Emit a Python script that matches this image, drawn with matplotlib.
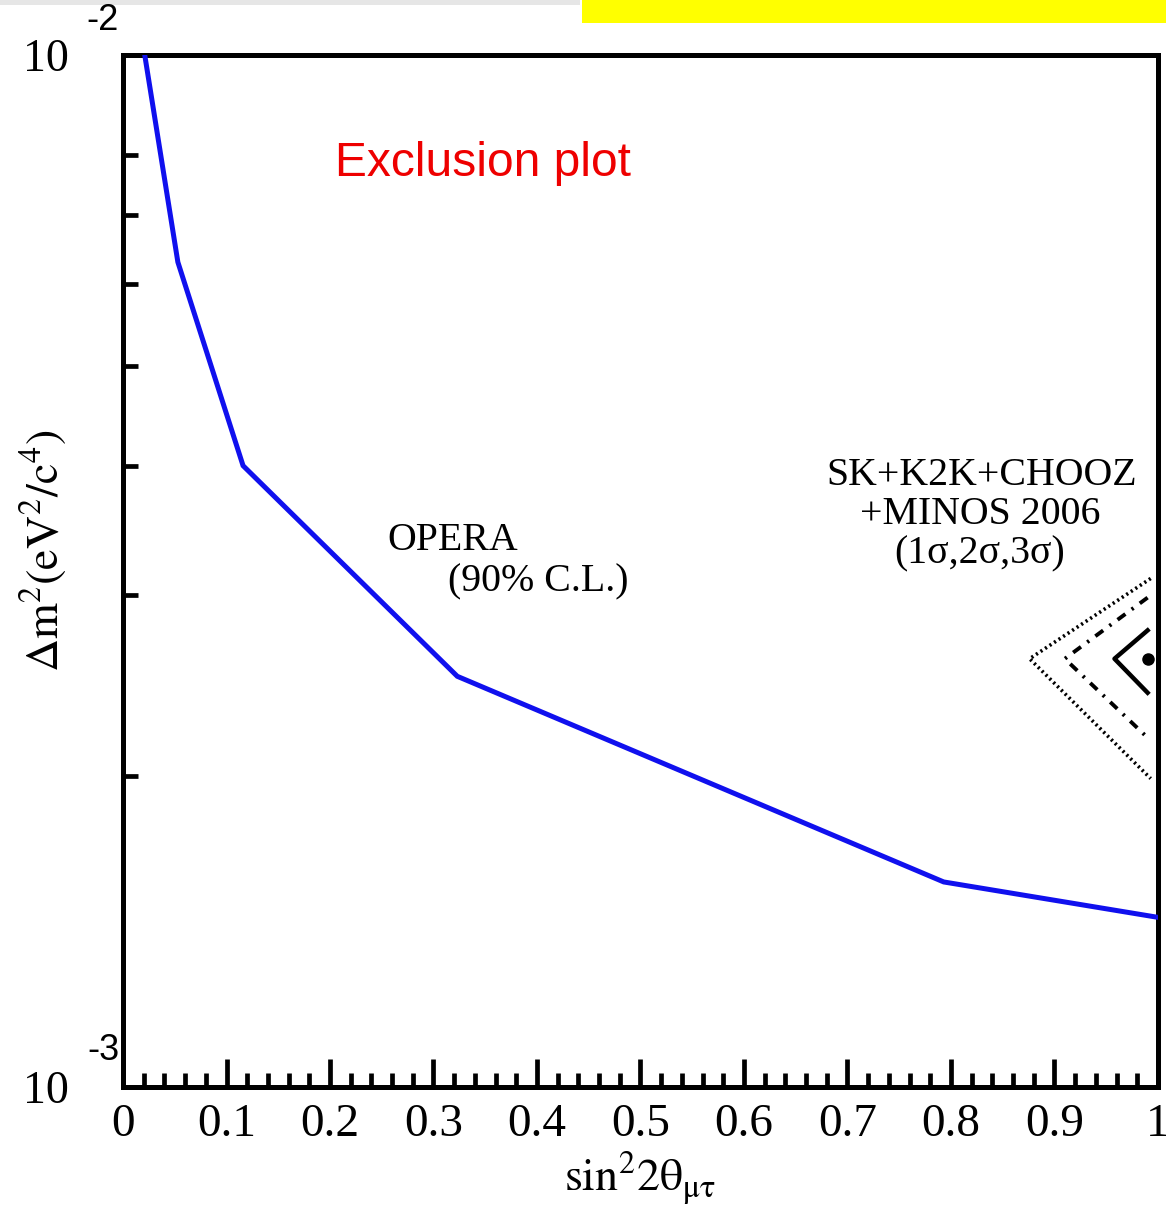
import matplotlib
matplotlib.use("Agg")
import matplotlib.pyplot as plt
from matplotlib.patches import Rectangle
from matplotlib.ticker import NullFormatter, FixedLocator, MultipleLocator

plt.rcParams['mathtext.fontset'] = 'stix'

# OPERA 90% C.L. sensitivity curve
opera_x = [0.021, 0.053, 0.116, 0.323, 0.793, 1.0]
opera_y = [1.0e-2, 6.3e-3, 4.0e-3, 2.5e-3, 1.58e-3, 1.46e-3]

# SK+K2K+CHOOZ+MINOS 2006 allowed regions (left halves, open to the right edge)
c3_x = [0.993, 0.876, 0.993]
c3_y = [3.11e-3, 2.60e-3, 1.99e-3]
c2_x = [0.990, 0.910, 0.990]
c2_y = [2.98e-3, 2.60e-3, 2.18e-3]
c1_x = [0.990, 0.958, 0.990]
c1_y = [2.77e-3, 2.60e-3, 2.41e-3]
best_x = [0.990]
best_y = [2.60e-3]

x_ticks = [0, 0.1, 0.2, 0.3, 0.4, 0.5, 0.6, 0.7, 0.8, 0.9, 1.0]
x_labels = ['0', '0.1', '0.2', '0.3', '0.4', '0.5', '0.6', '0.7', '0.8', '0.9', '1']

fig = plt.figure(figsize=(11.66, 12.10), dpi=100)
ax = fig.add_axes([0.1055, 0.1017, 0.8876, 0.8528])

ax.plot(opera_x, opera_y, color='#1010ee', lw=3.6, solid_joinstyle='miter', zorder=3)
ax.plot(c3_x, c3_y, color='black', lw=2.6, linestyle=(0, (0.6, 0.9)))
ax.plot(c2_x, c2_y, color='black', lw=2.8, linestyle=(0, (2.5, 2.0, 0.6, 2.0)))
ax.plot(c1_x, c1_y, color='black', lw=3.2)
ax.plot(best_x, best_y, 'o', color='black', ms=8)

ax.set_xlim(0, 1.0)
ax.set_yscale('log')
ax.set_ylim(1e-3, 1e-2)

for s in ax.spines.values():
    s.set_linewidth(3.6)

ax.xaxis.set_major_locator(FixedLocator(x_ticks))
ax.set_xticklabels(x_labels)
ax.xaxis.set_minor_locator(MultipleLocator(0.02))
ax.tick_params(axis='x', which='major', direction='in', length=20, width=3.4,
               labelsize=34, pad=12, top=False)
ax.tick_params(axis='x', which='minor', direction='in', length=10, width=3.4, top=False)

ax.set_yticks([1e-3, 1e-2])
ax.set_yticklabels(['10', '10'])
ax.yaxis.set_minor_locator(FixedLocator([2e-3, 3e-3, 4e-3, 5e-3, 6e-3, 7e-3, 8e-3]))
ax.yaxis.set_minor_formatter(NullFormatter())
ax.tick_params(axis='y', which='major', direction='in', length=0, labelsize=33, pad=39, right=False)
ax.tick_params(axis='y', which='minor', direction='in', length=11, width=3.4, right=False)
for lab in ax.get_xticklabels() + ax.get_yticklabels():
    lab.set_family('Liberation Serif')

# exponents of y tick labels
fig.text(103 / 1166, 1 - 20 / 1210, '-2', fontsize=26, family='Liberation Sans', ha='center', va='center')
fig.text(103 / 1166, 1 - 1050 / 1210, '-3', fontsize=26, family='Liberation Sans', ha='center', va='center')

ax.set_ylabel(r'$\mathrm{\Delta m^{2}(eV^{2}/c^{4})}$', fontsize=33, labelpad=2)
ax.yaxis.set_label_coords(-0.052, 0.52)
ax.set_xlabel(r'$\mathrm{sin^{2}2θ_{μτ}}$', fontsize=33, labelpad=0)
ax.xaxis.set_label_coords(0.5, -0.062)

ax.text(0.205, 0.895, 'Exclusion plot', transform=ax.transAxes, color='#ee0000',
        fontsize=34.5, family='Liberation Sans', ha='left', va='center')
ax.text(0.255, 0.530, 'OPERA', transform=ax.transAxes, fontsize=28.7,
        family='Liberation Serif', ha='left', va='center')
ax.text(0.314, 0.489, '(90% C.L.)', transform=ax.transAxes, fontsize=28.7,
        family='Liberation Serif', ha='left', va='center')
ax.text(0.830, 0.593, 'SK+K2K+CHOOZ', transform=ax.transAxes, fontsize=28.7,
        family='Liberation Serif', ha='center', va='center')
ax.text(0.828, 0.555, '+MINOS 2006', transform=ax.transAxes, fontsize=28.7,
        family='Liberation Serif', ha='center', va='center')
ax.text(0.828, 0.517, '(1σ,2σ,3σ)', transform=ax.transAxes, fontsize=28.7,
        family='Liberation Serif', ha='center', va='center')

# decorations at the top edge
fig.patches.append(Rectangle((0, 1 - 5 / 1210), 580 / 1166, 5 / 1210, transform=fig.transFigure,
                             facecolor='#e6e6e6', edgecolor='none'))
fig.patches.append(Rectangle((582 / 1166, 1 - 23 / 1210), 584 / 1166, 23 / 1210,
                             transform=fig.transFigure, facecolor='#ffff00', edgecolor='none'))

fig.savefig('out.png', dpi=100)
